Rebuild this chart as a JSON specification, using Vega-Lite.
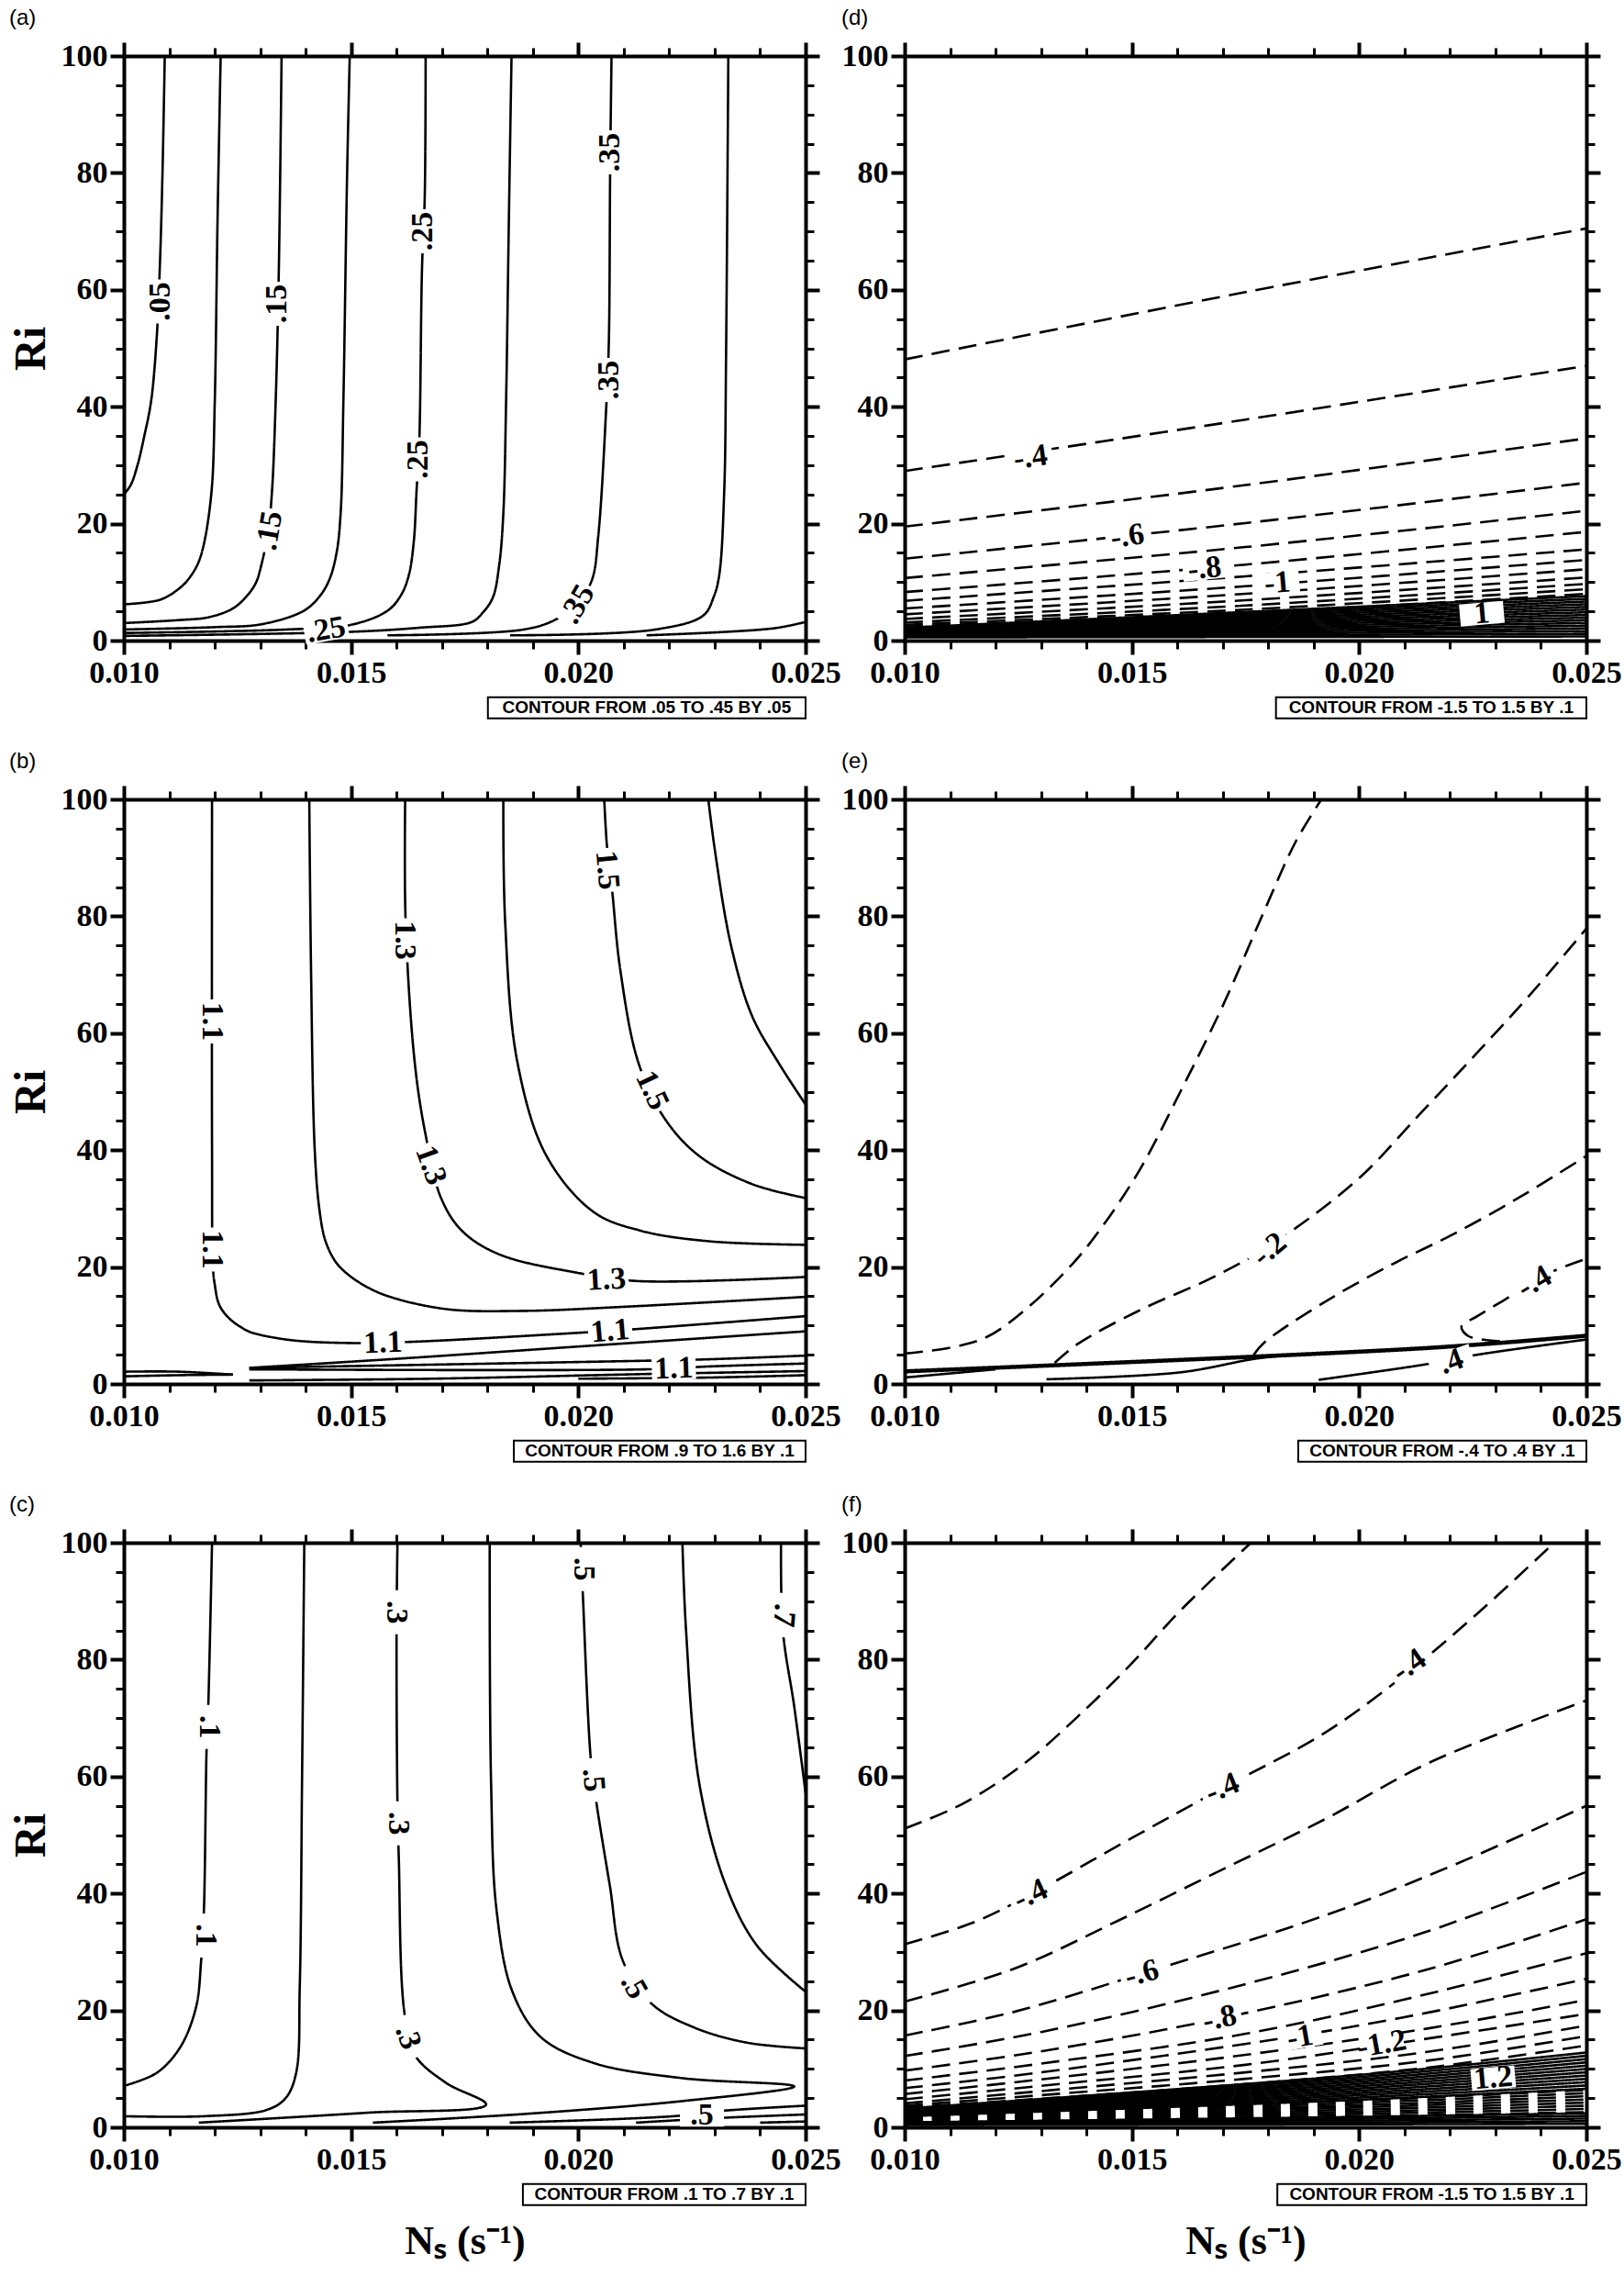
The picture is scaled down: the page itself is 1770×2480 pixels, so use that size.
{
  "$schema": "https://vega.github.io/schema/vega-lite/v6.json",
  "padding": {"left": 10, "top": 8, "right": 0, "bottom": 0},
  "background": "white",
  "config": {
    "view": {"stroke": null},
    "axis": {
      "grid": false, "domainColor": "black", "domainWidth": 4, "tickColor": "black",
      "labelColor": "black", "labelFont": "Liberation Serif", "labelFontWeight": "bold",
      "labelFontSize": 34, "labelPadding": 3, "titleFont": "Liberation Serif",
      "titleFontWeight": "bold", "titleColor": "black", "zindex": 1,
      "labelOverlap": false, "labelFlush": false
    },
    "title": {"font": "Liberation Sans", "fontWeight": "normal", "fontSize": 24, "anchor": "start", "frame": "bounds", "offset": 12, "color": "black"}
  },
  "datasets": {
    "lines": [
      {"p":"a","id":"a05","s":"solid","o":1,"x":0.0100,"y":25},
      {"p":"a","id":"a05","s":"solid","o":2,"x":0.01015,"y":26.6},
      {"p":"a","id":"a05","s":"solid","o":3,"x":0.0103,"y":30},
      {"p":"a","id":"a05","s":"solid","o":4,"x":0.01045,"y":35},
      {"p":"a","id":"a05","s":"solid","o":5,"x":0.0106,"y":41},
      {"p":"a","id":"a05","s":"solid","o":6,"x":0.01072,"y":51.5},
      {"p":"a","id":"a05","s":"solid","o":7,"x":0.01079,"y":63.6},
      {"p":"a","id":"a05","s":"solid","o":8,"x":0.01085,"y":80},
      {"p":"a","id":"a05","s":"solid","o":9,"x":0.0109,"y":100},
      {"p":"a","id":"a10","s":"solid","o":1,"x":0.0100,"y":6.2},
      {"p":"a","id":"a10","s":"solid","o":2,"x":0.0108,"y":7.0},
      {"p":"a","id":"a10","s":"solid","o":3,"x":0.0112,"y":8.8},
      {"p":"a","id":"a10","s":"solid","o":4,"x":0.01141,"y":10.4},
      {"p":"a","id":"a10","s":"solid","o":5,"x":0.01162,"y":13},
      {"p":"a","id":"a10","s":"solid","o":6,"x":0.01176,"y":16.5},
      {"p":"a","id":"a10","s":"solid","o":7,"x":0.01193,"y":25.6},
      {"p":"a","id":"a10","s":"solid","o":8,"x":0.0120,"y":40.8},
      {"p":"a","id":"a10","s":"solid","o":9,"x":0.01206,"y":71.3},
      {"p":"a","id":"a10","s":"solid","o":10,"x":0.01213,"y":100},
      {"p":"a","id":"a15","s":"solid","o":1,"x":0.0100,"y":3.0},
      {"p":"a","id":"a15","s":"solid","o":2,"x":0.0112,"y":3.5},
      {"p":"a","id":"a15","s":"solid","o":3,"x":0.01187,"y":4.0},
      {"p":"a","id":"a15","s":"solid","o":4,"x":0.0124,"y":5.5},
      {"p":"a","id":"a15","s":"solid","o":5,"x":0.01268,"y":7.4},
      {"p":"a","id":"a15","s":"solid","o":6,"x":0.0129,"y":9.8},
      {"p":"a","id":"a15","s":"solid","o":7,"x":0.01303,"y":13.1},
      {"p":"a","id":"a15","s":"solid","o":8,"x":0.01318,"y":19},
      {"p":"a","id":"a15","s":"solid","o":9,"x":0.01326,"y":25.6},
      {"p":"a","id":"a15","s":"solid","o":10,"x":0.01334,"y":40.8},
      {"p":"a","id":"a15","s":"solid","o":11,"x":0.01341,"y":63.6},
      {"p":"a","id":"a15","s":"solid","o":12,"x":0.01347,"y":100},
      {"p":"a","id":"a20","s":"solid","o":1,"x":0.0100,"y":1.9},
      {"p":"a","id":"a20","s":"solid","o":2,"x":0.0120,"y":2.3},
      {"p":"a","id":"a20","s":"solid","o":3,"x":0.01303,"y":2.8},
      {"p":"a","id":"a20","s":"solid","o":4,"x":0.01396,"y":5.1},
      {"p":"a","id":"a20","s":"solid","o":5,"x":0.0143,"y":7.5},
      {"p":"a","id":"a20","s":"solid","o":6,"x":0.01452,"y":10.4},
      {"p":"a","id":"a20","s":"solid","o":7,"x":0.01468,"y":15},
      {"p":"a","id":"a20","s":"solid","o":8,"x":0.01477,"y":21.8},
      {"p":"a","id":"a20","s":"solid","o":9,"x":0.01483,"y":40.8},
      {"p":"a","id":"a20","s":"solid","o":10,"x":0.01491,"y":79},
      {"p":"a","id":"a20","s":"solid","o":11,"x":0.01497,"y":100},
      {"p":"a","id":"a25","s":"solid","o":1,"x":0.0100,"y":1.3},
      {"p":"a","id":"a25","s":"solid","o":2,"x":0.0136,"y":1.9},
      {"p":"a","id":"a25","s":"solid","o":3,"x":0.0150,"y":2.7},
      {"p":"a","id":"a25","s":"solid","o":4,"x":0.0158,"y":5.1},
      {"p":"a","id":"a25","s":"solid","o":5,"x":0.0161,"y":7.8},
      {"p":"a","id":"a25","s":"solid","o":6,"x":0.01627,"y":11.2},
      {"p":"a","id":"a25","s":"solid","o":7,"x":0.01638,"y":17},
      {"p":"a","id":"a25","s":"solid","o":8,"x":0.01644,"y":25.6},
      {"p":"a","id":"a25","s":"solid","o":9,"x":0.0165,"y":34},
      {"p":"a","id":"a25","s":"solid","o":10,"x":0.01656,"y":63.6},
      {"p":"a","id":"a25","s":"solid","o":11,"x":0.01662,"y":75.8},
      {"p":"a","id":"a25","s":"solid","o":12,"x":0.01664,"y":100},
      {"p":"a","id":"a30","s":"solid","o":1,"x":0.0100,"y":0.8},
      {"p":"a","id":"a30","s":"solid","o":2,"x":0.0150,"y":1.5},
      {"p":"a","id":"a30","s":"solid","o":3,"x":0.0165,"y":2.2},
      {"p":"a","id":"a30","s":"solid","o":4,"x":0.01766,"y":3.2},
      {"p":"a","id":"a30","s":"solid","o":5,"x":0.0179,"y":4.8},
      {"p":"a","id":"a30","s":"solid","o":6,"x":0.01812,"y":7.4},
      {"p":"a","id":"a30","s":"solid","o":7,"x":0.01826,"y":13},
      {"p":"a","id":"a30","s":"solid","o":8,"x":0.01835,"y":21.8},
      {"p":"a","id":"a30","s":"solid","o":9,"x":0.01841,"y":40.8},
      {"p":"a","id":"a30","s":"solid","o":10,"x":0.01847,"y":71.3},
      {"p":"a","id":"a30","s":"solid","o":11,"x":0.01853,"y":100},
      {"p":"a","id":"a35","s":"solid","o":1,"x":0.0158,"y":0.9},
      {"p":"a","id":"a35","s":"solid","o":2,"x":0.0188,"y":1.9},
      {"p":"a","id":"a35","s":"solid","o":3,"x":0.0195,"y":3.6},
      {"p":"a","id":"a35","s":"solid","o":4,"x":0.0200,"y":6.5},
      {"p":"a","id":"a35","s":"solid","o":5,"x":0.0203,"y":10.4},
      {"p":"a","id":"a35","s":"solid","o":6,"x":0.02044,"y":18},
      {"p":"a","id":"a35","s":"solid","o":7,"x":0.02061,"y":39.3},
      {"p":"a","id":"a35","s":"solid","o":8,"x":0.02067,"y":50.7},
      {"p":"a","id":"a35","s":"solid","o":9,"x":0.0207,"y":80.4},
      {"p":"a","id":"a35","s":"solid","o":10,"x":0.02073,"y":100},
      {"p":"a","id":"a40","s":"solid","o":1,"x":0.0185,"y":0.9},
      {"p":"a","id":"a40","s":"solid","o":2,"x":0.0217,"y":1.9},
      {"p":"a","id":"a40","s":"solid","o":3,"x":0.02275,"y":4.3},
      {"p":"a","id":"a40","s":"solid","o":4,"x":0.02298,"y":7.5},
      {"p":"a","id":"a40","s":"solid","o":5,"x":0.0231,"y":11.2},
      {"p":"a","id":"a40","s":"solid","o":6,"x":0.02321,"y":25.6},
      {"p":"a","id":"a40","s":"solid","o":7,"x":0.02325,"y":48.4},
      {"p":"a","id":"a40","s":"solid","o":8,"x":0.0233,"y":100},
      {"p":"a","id":"a45","s":"solid","o":1,"x":0.0215,"y":0.9},
      {"p":"a","id":"a45","s":"solid","o":2,"x":0.0243,"y":2.1},
      {"p":"a","id":"a45","s":"solid","o":3,"x":0.025,"y":3.2},

      {"p":"b","id":"b11","s":"solid","o":1,"x":0.01194,"y":100},
      {"p":"b","id":"b11","s":"solid","o":2,"x":0.01194,"y":40},
      {"p":"b","id":"b11","s":"solid","o":3,"x":0.01196,"y":20},
      {"p":"b","id":"b11","s":"solid","o":4,"x":0.0120,"y":17},
      {"p":"b","id":"b11","s":"solid","o":5,"x":0.0121,"y":13.5},
      {"p":"b","id":"b11","s":"solid","o":6,"x":0.01232,"y":11.2},
      {"p":"b","id":"b11","s":"solid","o":7,"x":0.0126,"y":9.6},
      {"p":"b","id":"b11","s":"solid","o":8,"x":0.01281,"y":8.8},
      {"p":"b","id":"b11","s":"solid","o":9,"x":0.01368,"y":7.5},
      {"p":"b","id":"b11","s":"solid","o":10,"x":0.0150,"y":7.0},
      {"p":"b","id":"b11","s":"solid","o":11,"x":0.0163,"y":7.2},
      {"p":"b","id":"b11","s":"solid","o":12,"x":0.0200,"y":8.75},
      {"p":"b","id":"b11","s":"solid","o":13,"x":0.0213,"y":9.4},
      {"p":"b","id":"b11","s":"solid","o":14,"x":0.025,"y":11.6},
      {"p":"b","id":"b12","s":"solid","o":1,"x":0.01408,"y":100},
      {"p":"b","id":"b12","s":"solid","o":2,"x":0.01412,"y":70},
      {"p":"b","id":"b12","s":"solid","o":3,"x":0.0142,"y":40},
      {"p":"b","id":"b12","s":"solid","o":4,"x":0.0143,"y":30},
      {"p":"b","id":"b12","s":"solid","o":5,"x":0.01443,"y":24.6},
      {"p":"b","id":"b12","s":"solid","o":6,"x":0.01465,"y":21},
      {"p":"b","id":"b12","s":"solid","o":7,"x":0.01489,"y":19},
      {"p":"b","id":"b12","s":"solid","o":8,"x":0.0153,"y":16.8},
      {"p":"b","id":"b12","s":"solid","o":9,"x":0.01582,"y":15},
      {"p":"b","id":"b12","s":"solid","o":10,"x":0.0171,"y":12.8},
      {"p":"b","id":"b12","s":"solid","o":11,"x":0.0188,"y":12.5},
      {"p":"b","id":"b12","s":"solid","o":12,"x":0.0210,"y":13.2},
      {"p":"b","id":"b12","s":"solid","o":13,"x":0.025,"y":14.9},
      {"p":"b","id":"b13","s":"solid","o":1,"x":0.01619,"y":100},
      {"p":"b","id":"b13","s":"solid","o":2,"x":0.0162,"y":79},
      {"p":"b","id":"b13","s":"solid","o":3,"x":0.0164,"y":55},
      {"p":"b","id":"b13","s":"solid","o":4,"x":0.01663,"y":43},
      {"p":"b","id":"b13","s":"solid","o":5,"x":0.01698,"y":31.8},
      {"p":"b","id":"b13","s":"solid","o":6,"x":0.01744,"y":26.2},
      {"p":"b","id":"b13","s":"solid","o":7,"x":0.01825,"y":22.2},
      {"p":"b","id":"b13","s":"solid","o":8,"x":0.01999,"y":19},
      {"p":"b","id":"b13","s":"solid","o":9,"x":0.0213,"y":17.6},
      {"p":"b","id":"b13","s":"solid","o":10,"x":0.025,"y":18.3},
      {"p":"b","id":"b14","s":"solid","o":1,"x":0.01835,"y":100},
      {"p":"b","id":"b14","s":"solid","o":2,"x":0.01839,"y":79},
      {"p":"b","id":"b14","s":"solid","o":3,"x":0.01866,"y":55},
      {"p":"b","id":"b14","s":"solid","o":4,"x":0.0193,"y":39},
      {"p":"b","id":"b14","s":"solid","o":5,"x":0.02034,"y":29.4},
      {"p":"b","id":"b14","s":"solid","o":6,"x":0.02138,"y":26.2},
      {"p":"b","id":"b14","s":"solid","o":7,"x":0.02289,"y":24.4},
      {"p":"b","id":"b14","s":"solid","o":8,"x":0.025,"y":23.8},
      {"p":"b","id":"b15","s":"solid","o":1,"x":0.02057,"y":100},
      {"p":"b","id":"b15","s":"solid","o":2,"x":0.02063,"y":92},
      {"p":"b","id":"b15","s":"solid","o":3,"x":0.02074,"y":84.7},
      {"p":"b","id":"b15","s":"solid","o":4,"x":0.02092,"y":71},
      {"p":"b","id":"b15","s":"solid","o":5,"x":0.02132,"y":55},
      {"p":"b","id":"b15","s":"solid","o":6,"x":0.0219,"y":45.4},
      {"p":"b","id":"b15","s":"solid","o":7,"x":0.02266,"y":39},
      {"p":"b","id":"b15","s":"solid","o":8,"x":0.02382,"y":34.2},
      {"p":"b","id":"b15","s":"solid","o":9,"x":0.025,"y":31.8},
      {"p":"b","id":"b16","s":"solid","o":1,"x":0.02286,"y":100},
      {"p":"b","id":"b16","s":"solid","o":2,"x":0.02301,"y":91},
      {"p":"b","id":"b16","s":"solid","o":3,"x":0.02336,"y":75},
      {"p":"b","id":"b16","s":"solid","o":4,"x":0.02382,"y":63},
      {"p":"b","id":"b16","s":"solid","o":5,"x":0.0244,"y":55},
      {"p":"b","id":"b16","s":"solid","o":6,"x":0.025,"y":47.8},
      {"p":"b","id":"bA","s":"solid","o":1,"x":0.01276,"y":2.75},
      {"p":"b","id":"bA","s":"solid","o":2,"x":0.0160,"y":4.3},
      {"p":"b","id":"bA","s":"solid","o":3,"x":0.0200,"y":6.4},
      {"p":"b","id":"bA","s":"solid","o":4,"x":0.025,"y":9.0},
      {"p":"b","id":"bB","s":"solid","o":1,"x":0.01276,"y":2.75},
      {"p":"b","id":"bB","s":"solid","o":2,"x":0.0214,"y":3.96},
      {"p":"b","id":"bB","s":"solid","o":3,"x":0.0228,"y":4.2},
      {"p":"b","id":"bB","s":"solid","o":4,"x":0.025,"y":4.85},
      {"p":"b","id":"bC","s":"solid","o":1,"x":0.01276,"y":2.5},
      {"p":"b","id":"bC","s":"solid","o":2,"x":0.0215,"y":2.5},
      {"p":"b","id":"bC","s":"solid","o":3,"x":0.0229,"y":3.0},
      {"p":"b","id":"bC","s":"solid","o":4,"x":0.025,"y":3.5},
      {"p":"b","id":"bD","s":"solid","o":1,"x":0.01276,"y":0.6},
      {"p":"b","id":"bD","s":"solid","o":2,"x":0.0168,"y":0.9},
      {"p":"b","id":"bD","s":"solid","o":3,"x":0.0215,"y":1.7},
      {"p":"b","id":"bD","s":"solid","o":4,"x":0.025,"y":2.2},
      {"p":"b","id":"bE","s":"solid","o":1,"x":0.0200,"y":0.9},
      {"p":"b","id":"bE","s":"solid","o":2,"x":0.0229,"y":1.1},
      {"p":"b","id":"bE","s":"solid","o":3,"x":0.025,"y":1.5},
      {"p":"b","id":"bW1","s":"solid","o":1,"x":0.0100,"y":2.1},
      {"p":"b","id":"bW1","s":"solid","o":2,"x":0.0112,"y":2.1},
      {"p":"b","id":"bW1","s":"solid","o":3,"x":0.0124,"y":1.6},
      {"p":"b","id":"bW2","s":"solid","o":1,"x":0.0100,"y":1.3},
      {"p":"b","id":"bW2","s":"solid","o":2,"x":0.0112,"y":1.5},
      {"p":"b","id":"bW2","s":"solid","o":3,"x":0.0124,"y":1.6},

      {"p":"c","id":"c1","s":"solid","o":1,"x":0.0100,"y":7.1},
      {"p":"c","id":"c1","s":"solid","o":2,"x":0.01072,"y":9.3},
      {"p":"c","id":"c1","s":"solid","o":3,"x":0.01124,"y":13.7},
      {"p":"c","id":"c1","s":"solid","o":4,"x":0.01159,"y":20.6},
      {"p":"c","id":"c1","s":"solid","o":5,"x":0.0117,"y":28.5},
      {"p":"c","id":"c1","s":"solid","o":6,"x":0.01176,"y":36.8},
      {"p":"c","id":"c1","s":"solid","o":7,"x":0.01182,"y":64.7},
      {"p":"c","id":"c1","s":"solid","o":8,"x":0.01186,"y":72.8},
      {"p":"c","id":"c1","s":"solid","o":9,"x":0.01194,"y":100},
      {"p":"c","id":"c2","s":"solid","o":1,"x":0.0100,"y":1.9},
      {"p":"c","id":"c2","s":"solid","o":2,"x":0.01176,"y":1.9},
      {"p":"c","id":"c2","s":"solid","o":3,"x":0.01315,"y":3.0},
      {"p":"c","id":"c2","s":"solid","o":4,"x":0.01356,"y":5.0},
      {"p":"c","id":"c2","s":"solid","o":5,"x":0.01379,"y":9.3},
      {"p":"c","id":"c2","s":"solid","o":6,"x":0.01387,"y":24},
      {"p":"c","id":"c2","s":"solid","o":7,"x":0.01392,"y":58.9},
      {"p":"c","id":"c2","s":"solid","o":8,"x":0.01397,"y":100},
      {"p":"c","id":"c3","s":"solid","o":1,"x":0.01602,"y":100},
      {"p":"c","id":"c3","s":"solid","o":2,"x":0.0160,"y":85},
      {"p":"c","id":"c3","s":"solid","o":3,"x":0.01602,"y":55.4},
      {"p":"c","id":"c3","s":"solid","o":4,"x":0.01605,"y":45.9},
      {"p":"c","id":"c3","s":"solid","o":5,"x":0.01617,"y":19.8},
      {"p":"c","id":"c3","s":"solid","o":6,"x":0.0164,"y":12.4},
      {"p":"c","id":"c3","s":"solid","o":7,"x":0.01709,"y":7.6},
      {"p":"c","id":"c3","s":"solid","o":8,"x":0.01797,"y":3.9},
      {"p":"c","id":"c3","s":"solid","o":9,"x":0.01536,"y":2.5},
      {"p":"c","id":"c3","s":"solid","o":10,"x":0.01165,"y":0.8},
      {"p":"c","id":"c4","s":"solid","o":1,"x":0.01805,"y":100},
      {"p":"c","id":"c4","s":"solid","o":2,"x":0.01808,"y":58.9},
      {"p":"c","id":"c4","s":"solid","o":3,"x":0.0182,"y":37.2},
      {"p":"c","id":"c4","s":"solid","o":4,"x":0.01855,"y":23.2},
      {"p":"c","id":"c4","s":"solid","o":5,"x":0.01918,"y":15.4},
      {"p":"c","id":"c4","s":"solid","o":6,"x":0.02034,"y":11.0},
      {"p":"c","id":"c4","s":"solid","o":7,"x":0.0223,"y":8.4},
      {"p":"c","id":"c4","s":"solid","o":8,"x":0.02475,"y":7.0},
      {"p":"c","id":"c4","s":"solid","o":9,"x":0.0223,"y":4.5},
      {"p":"c","id":"c4","s":"solid","o":10,"x":0.01884,"y":2.3},
      {"p":"c","id":"c4","s":"solid","o":11,"x":0.01548,"y":0.8},
      {"p":"c","id":"c5","s":"solid","o":1,"x":0.02005,"y":100},
      {"p":"c","id":"c5","s":"solid","o":2,"x":0.0201,"y":91},
      {"p":"c","id":"c5","s":"solid","o":3,"x":0.02028,"y":62.4},
      {"p":"c","id":"c5","s":"solid","o":4,"x":0.0204,"y":55.4},
      {"p":"c","id":"c5","s":"solid","o":5,"x":0.02069,"y":41.5},
      {"p":"c","id":"c5","s":"solid","o":6,"x":0.02098,"y":28.5},
      {"p":"c","id":"c5","s":"solid","o":7,"x":0.02162,"y":21.1},
      {"p":"c","id":"c5","s":"solid","o":8,"x":0.02254,"y":17.1},
      {"p":"c","id":"c5","s":"solid","o":9,"x":0.0237,"y":14.5},
      {"p":"c","id":"c5","s":"solid","o":10,"x":0.025,"y":13.5},
      {"p":"c","id":"c5b","s":"solid","o":1,"x":0.01849,"y":0.8},
      {"p":"c","id":"c5b","s":"solid","o":2,"x":0.02209,"y":1.9},
      {"p":"c","id":"c5b","s":"solid","o":3,"x":0.02312,"y":2.8},
      {"p":"c","id":"c5b","s":"solid","o":4,"x":0.025,"y":3.7},
      {"p":"c","id":"c6","s":"solid","o":1,"x":0.02229,"y":100},
      {"p":"c","id":"c6","s":"solid","o":2,"x":0.02237,"y":85},
      {"p":"c","id":"c6","s":"solid","o":3,"x":0.02266,"y":58.9},
      {"p":"c","id":"c6","s":"solid","o":4,"x":0.02324,"y":41.5},
      {"p":"c","id":"c6","s":"solid","o":5,"x":0.02393,"y":31.1},
      {"p":"c","id":"c6","s":"solid","o":6,"x":0.025,"y":23.2},
      {"p":"c","id":"c6b","s":"solid","o":1,"x":0.02127,"y":0.8},
      {"p":"c","id":"c6b","s":"solid","o":2,"x":0.0231,"y":1.6},
      {"p":"c","id":"c6b","s":"solid","o":3,"x":0.025,"y":2.2},
      {"p":"c","id":"c7b","s":"solid","o":1,"x":0.0240,"y":0.8},
      {"p":"c","id":"c7b","s":"solid","o":2,"x":0.025,"y":1.0},
      {"p":"c","id":"c7","s":"solid","o":1,"x":0.02446,"y":100},
      {"p":"c","id":"c7","s":"solid","o":2,"x":0.0245,"y":85},
      {"p":"c","id":"c7","s":"solid","o":3,"x":0.02475,"y":72},
      {"p":"c","id":"c7","s":"solid","o":4,"x":0.025,"y":57.2},

      {"p":"d","id":"d03","s":"dashed","o":1,"x":0.010,"y":48.1},
      {"p":"d","id":"d03","s":"dashed","o":2,"x":0.0175,"y":59.6},
      {"p":"d","id":"d03","s":"dashed","o":3,"x":0.025,"y":70.5},
      {"p":"d","id":"d04","s":"dashed","o":1,"x":0.010,"y":29.0},
      {"p":"d","id":"d04","s":"dashed","o":2,"x":0.0175,"y":37.8},
      {"p":"d","id":"d04","s":"dashed","o":3,"x":0.025,"y":47.0},
      {"p":"d","id":"d05","s":"dashed","o":1,"x":0.010,"y":19.5},
      {"p":"d","id":"d05","s":"dashed","o":2,"x":0.0175,"y":26.6},
      {"p":"d","id":"d05","s":"dashed","o":3,"x":0.025,"y":34.6},
      {"p":"d","id":"d06","s":"dashed","o":1,"x":0.010,"y":14.0},
      {"p":"d","id":"d06","s":"dashed","o":2,"x":0.0175,"y":20.1},
      {"p":"d","id":"d06","s":"dashed","o":3,"x":0.025,"y":27.0},
      {"p":"d","id":"d07","s":"dashed","o":1,"x":0.010,"y":10.7},
      {"p":"d","id":"d07","s":"dashed","o":2,"x":0.0175,"y":16.0},
      {"p":"d","id":"d07","s":"dashed","o":3,"x":0.025,"y":22.2},
      {"p":"d","id":"d08","s":"dashed","o":1,"x":0.010,"y":8.3},
      {"p":"d","id":"d08","s":"dashed","o":2,"x":0.0175,"y":13.0},
      {"p":"d","id":"d08","s":"dashed","o":3,"x":0.025,"y":18.6},
      {"p":"d","id":"d09","s":"dashed","o":1,"x":0.010,"y":6.8},
      {"p":"d","id":"d09","s":"dashed","o":2,"x":0.0175,"y":11.0},
      {"p":"d","id":"d09","s":"dashed","o":3,"x":0.025,"y":15.6},
      {"p":"d","id":"d10","s":"dashed","o":1,"x":0.010,"y":5.5},
      {"p":"d","id":"d10","s":"dashed","o":2,"x":0.0175,"y":9.3},
      {"p":"d","id":"d10","s":"dashed","o":3,"x":0.025,"y":13.8},
      {"p":"d","id":"d11","s":"dashed","o":1,"x":0.010,"y":4.5},
      {"p":"d","id":"d11","s":"dashed","o":2,"x":0.0175,"y":8.0},
      {"p":"d","id":"d11","s":"dashed","o":3,"x":0.025,"y":12.2},
      {"p":"d","id":"d12","s":"dashed","o":1,"x":0.010,"y":3.7},
      {"p":"d","id":"d12","s":"dashed","o":2,"x":0.0175,"y":6.9},
      {"p":"d","id":"d12","s":"dashed","o":3,"x":0.025,"y":10.8},
      {"p":"d","id":"d13","s":"dashed","o":1,"x":0.010,"y":3.1},
      {"p":"d","id":"d13","s":"dashed","o":2,"x":0.0175,"y":6.0},
      {"p":"d","id":"d13","s":"dashed","o":3,"x":0.025,"y":9.7},
      {"p":"d","id":"d14","s":"dashed","o":1,"x":0.010,"y":2.7},
      {"p":"d","id":"d14","s":"dashed","o":2,"x":0.0175,"y":5.3},
      {"p":"d","id":"d14","s":"dashed","o":3,"x":0.025,"y":8.8},
      {"p":"d","id":"d15","s":"dashed","o":1,"x":0.010,"y":2.4},
      {"p":"d","id":"d15","s":"dashed","o":2,"x":0.0175,"y":4.7},
      {"p":"d","id":"d15","s":"dashed","o":3,"x":0.025,"y":8.0},
      {"p":"d","id":"dS0","s":"solid","o":1,"x":0.010,"y":2.2},
      {"p":"d","id":"dS0","s":"solid","o":2,"x":0.025,"y":7.6},
      {"p":"d","id":"dS1","s":"solid","o":1,"x":0.010,"y":2.09},
      {"p":"d","id":"dS1","s":"solid","o":2,"x":0.025,"y":7.14},
      {"p":"d","id":"dS2","s":"solid","o":1,"x":0.010,"y":1.98},
      {"p":"d","id":"dS2","s":"solid","o":2,"x":0.025,"y":6.68},
      {"p":"d","id":"dS3","s":"solid","o":1,"x":0.010,"y":1.87},
      {"p":"d","id":"dS3","s":"solid","o":2,"x":0.025,"y":6.22},
      {"p":"d","id":"dS4","s":"solid","o":1,"x":0.010,"y":1.76},
      {"p":"d","id":"dS4","s":"solid","o":2,"x":0.025,"y":5.76},
      {"p":"d","id":"dS5","s":"solid","o":1,"x":0.010,"y":1.65},
      {"p":"d","id":"dS5","s":"solid","o":2,"x":0.025,"y":5.3},
      {"p":"d","id":"dS6","s":"solid","o":1,"x":0.010,"y":1.54},
      {"p":"d","id":"dS6","s":"solid","o":2,"x":0.025,"y":4.84},
      {"p":"d","id":"dS7","s":"solid","o":1,"x":0.010,"y":1.43},
      {"p":"d","id":"dS7","s":"solid","o":2,"x":0.025,"y":4.38},
      {"p":"d","id":"dS8","s":"solid","o":1,"x":0.010,"y":1.32},
      {"p":"d","id":"dS8","s":"solid","o":2,"x":0.025,"y":3.92},
      {"p":"d","id":"dS9","s":"solid","o":1,"x":0.010,"y":1.21},
      {"p":"d","id":"dS9","s":"solid","o":2,"x":0.025,"y":3.46},
      {"p":"d","id":"dS10","s":"solid","o":1,"x":0.010,"y":1.1},
      {"p":"d","id":"dS10","s":"solid","o":2,"x":0.025,"y":3.0},
      {"p":"d","id":"dS11","s":"solid","o":1,"x":0.010,"y":0.99},
      {"p":"d","id":"dS11","s":"solid","o":2,"x":0.025,"y":2.54},
      {"p":"d","id":"dS12","s":"solid","o":1,"x":0.010,"y":0.88},
      {"p":"d","id":"dS12","s":"solid","o":2,"x":0.025,"y":2.08},
      {"p":"d","id":"dS13","s":"solid","o":1,"x":0.010,"y":0.77},
      {"p":"d","id":"dS13","s":"solid","o":2,"x":0.025,"y":1.62},
      {"p":"d","id":"dS14","s":"solid","o":1,"x":0.010,"y":0.66},
      {"p":"d","id":"dS14","s":"solid","o":2,"x":0.025,"y":1.16},
      {"p":"d","id":"dS15","s":"solid","o":1,"x":0.010,"y":0.55},
      {"p":"d","id":"dS15","s":"solid","o":2,"x":0.025,"y":0.7},

      {"p":"e","id":"eE1","s":"dashed","o":1,"x":0.010,"y":5.2},
      {"p":"e","id":"eE1","s":"dashed","o":2,"x":0.0110,"y":6.2},
      {"p":"e","id":"eE1","s":"dashed","o":3,"x":0.0118,"y":8.0},
      {"p":"e","id":"eE1","s":"dashed","o":4,"x":0.0127,"y":13.0},
      {"p":"e","id":"eE1","s":"dashed","o":5,"x":0.0137,"y":20.6},
      {"p":"e","id":"eE1","s":"dashed","o":6,"x":0.0143,"y":26.4},
      {"p":"e","id":"eE1","s":"dashed","o":7,"x":0.01517,"y":36.6},
      {"p":"e","id":"eE1","s":"dashed","o":8,"x":0.01608,"y":50.2},
      {"p":"e","id":"eE1","s":"dashed","o":9,"x":0.0170,"y":64.7},
      {"p":"e","id":"eE1","s":"dashed","o":10,"x":0.0179,"y":80.7},
      {"p":"e","id":"eE1","s":"dashed","o":11,"x":0.0186,"y":92.7},
      {"p":"e","id":"eE1","s":"dashed","o":12,"x":0.01917,"y":100},
      {"p":"e","id":"eE2","s":"dashed","o":1,"x":0.0133,"y":3.6},
      {"p":"e","id":"eE2","s":"dashed","o":2,"x":0.0138,"y":6.8},
      {"p":"e","id":"eE2","s":"dashed","o":3,"x":0.01517,"y":12.6},
      {"p":"e","id":"eE2","s":"dashed","o":4,"x":0.01677,"y":18.2},
      {"p":"e","id":"eE2","s":"dashed","o":5,"x":0.0181,"y":24},
      {"p":"e","id":"eE2","s":"dashed","o":6,"x":0.01997,"y":35},
      {"p":"e","id":"eE2","s":"dashed","o":7,"x":0.02134,"y":46.2},
      {"p":"e","id":"eE2","s":"dashed","o":8,"x":0.02259,"y":56.6},
      {"p":"e","id":"eE2","s":"dashed","o":9,"x":0.02373,"y":66.3},
      {"p":"e","id":"eE2","s":"dashed","o":10,"x":0.025,"y":77.9},
      {"p":"e","id":"eE3","s":"dashed","o":1,"x":0.01768,"y":5.0},
      {"p":"e","id":"eE3","s":"dashed","o":2,"x":0.0179,"y":7.0},
      {"p":"e","id":"eE3","s":"dashed","o":3,"x":0.01928,"y":14.2},
      {"p":"e","id":"eE3","s":"dashed","o":4,"x":0.02076,"y":20.6},
      {"p":"e","id":"eE3","s":"dashed","o":5,"x":0.02202,"y":25.4},
      {"p":"e","id":"eE3","s":"dashed","o":6,"x":0.0235,"y":31.8},
      {"p":"e","id":"eE3","s":"dashed","o":7,"x":0.025,"y":39},
      {"p":"e","id":"eE4","s":"dashed","o":1,"x":0.0231,"y":7.3},
      {"p":"e","id":"eE4","s":"dashed","o":2,"x":0.0224,"y":8.2},
      {"p":"e","id":"eE4","s":"dashed","o":3,"x":0.02225,"y":9.8},
      {"p":"e","id":"eE4","s":"dashed","o":4,"x":0.0226,"y":11.6},
      {"p":"e","id":"eE4","s":"dashed","o":5,"x":0.02316,"y":14.2},
      {"p":"e","id":"eE4","s":"dashed","o":6,"x":0.02419,"y":19.0},
      {"p":"e","id":"eE4","s":"dashed","o":7,"x":0.025,"y":21.4},
      {"p":"e","id":"eS1","s":"solid","o":1,"x":0.010,"y":2.3},
      {"p":"e","id":"eS1","s":"solid","o":2,"x":0.0215,"y":6.3},
      {"p":"e","id":"eS1","s":"solid","o":3,"x":0.025,"y":8.4},
      {"p":"e","id":"eS1b","s":"solid","o":1,"x":0.010,"y":2.0},
      {"p":"e","id":"eS1b","s":"solid","o":2,"x":0.0215,"y":6.0},
      {"p":"e","id":"eS1b","s":"solid","o":3,"x":0.025,"y":8.1},
      {"p":"e","id":"eS2","s":"solid","o":1,"x":0.010,"y":1.1},
      {"p":"e","id":"eS2","s":"solid","o":2,"x":0.0110,"y":1.8},
      {"p":"e","id":"eS2","s":"solid","o":3,"x":0.0120,"y":2.5},
      {"p":"e","id":"eS3","s":"solid","o":1,"x":0.01312,"y":0.8},
      {"p":"e","id":"eS3","s":"solid","o":2,"x":0.01608,"y":2.0},
      {"p":"e","id":"eS3","s":"solid","o":3,"x":0.0177,"y":4.3},
      {"p":"e","id":"eS3","s":"solid","o":4,"x":0.0185,"y":5.0},
      {"p":"e","id":"eS4","s":"solid","o":1,"x":0.01911,"y":0.7},
      {"p":"e","id":"eS4","s":"solid","o":2,"x":0.0215,"y":3.4},
      {"p":"e","id":"eS4","s":"solid","o":3,"x":0.0226,"y":5.0},
      {"p":"e","id":"eS4","s":"solid","o":4,"x":0.025,"y":7.6},

      {"p":"f","id":"f03","s":"dashed","o":1,"x":0.010,"y":51.1},
      {"p":"f","id":"f03","s":"dashed","o":2,"x":0.01129,"y":55.4},
      {"p":"f","id":"f03","s":"dashed","o":3,"x":0.01266,"y":62.4},
      {"p":"f","id":"f03","s":"dashed","o":4,"x":0.0138,"y":70.2},
      {"p":"f","id":"f03","s":"dashed","o":5,"x":0.01494,"y":78.9},
      {"p":"f","id":"f03","s":"dashed","o":6,"x":0.01608,"y":88.5},
      {"p":"f","id":"f03","s":"dashed","o":7,"x":0.01762,"y":100},
      {"p":"f","id":"f04","s":"dashed","o":1,"x":0.010,"y":31.3},
      {"p":"f","id":"f04","s":"dashed","o":2,"x":0.0115,"y":35},
      {"p":"f","id":"f04","s":"dashed","o":3,"x":0.01277,"y":39.8},
      {"p":"f","id":"f04","s":"dashed","o":4,"x":0.0150,"y":49.5},
      {"p":"f","id":"f04","s":"dashed","o":5,"x":0.01699,"y":58},
      {"p":"f","id":"f04","s":"dashed","o":6,"x":0.01927,"y":67.6},
      {"p":"f","id":"f04","s":"dashed","o":7,"x":0.0211,"y":78},
      {"p":"f","id":"f04","s":"dashed","o":8,"x":0.02269,"y":88.5},
      {"p":"f","id":"f04","s":"dashed","o":9,"x":0.02429,"y":100},
      {"p":"f","id":"f05","s":"dashed","o":1,"x":0.010,"y":21.5},
      {"p":"f","id":"f05","s":"dashed","o":2,"x":0.01243,"y":27.2},
      {"p":"f","id":"f05","s":"dashed","o":3,"x":0.01471,"y":35.4},
      {"p":"f","id":"f05","s":"dashed","o":4,"x":0.01699,"y":44.1},
      {"p":"f","id":"f05","s":"dashed","o":5,"x":0.01927,"y":52.8},
      {"p":"f","id":"f05","s":"dashed","o":6,"x":0.02155,"y":62.4},
      {"p":"f","id":"f05","s":"dashed","o":7,"x":0.025,"y":73},
      {"p":"f","id":"f06","s":"dashed","o":1,"x":0.010,"y":15.7},
      {"p":"f","id":"f06","s":"dashed","o":2,"x":0.01243,"y":19.8},
      {"p":"f","id":"f06","s":"dashed","o":3,"x":0.01522,"y":26.3},
      {"p":"f","id":"f06","s":"dashed","o":4,"x":0.01927,"y":36.3},
      {"p":"f","id":"f06","s":"dashed","o":5,"x":0.02212,"y":45},
      {"p":"f","id":"f06","s":"dashed","o":6,"x":0.025,"y":55},
      {"p":"f","id":"f07","s":"dashed","o":1,"x":0.010,"y":12.2},
      {"p":"f","id":"f07","s":"dashed","o":2,"x":0.013,"y":16.3},
      {"p":"f","id":"f07","s":"dashed","o":3,"x":0.0175,"y":24.5},
      {"p":"f","id":"f07","s":"dashed","o":4,"x":0.0215,"y":33.5},
      {"p":"f","id":"f07","s":"dashed","o":5,"x":0.025,"y":43.7},
      {"p":"f","id":"f08","s":"dashed","o":1,"x":0.010,"y":9.7},
      {"p":"f","id":"f08","s":"dashed","o":2,"x":0.013,"y":13},
      {"p":"f","id":"f08","s":"dashed","o":3,"x":0.01693,"y":18.6},
      {"p":"f","id":"f08","s":"dashed","o":4,"x":0.0215,"y":27},
      {"p":"f","id":"f08","s":"dashed","o":5,"x":0.025,"y":35.6},
      {"p":"f","id":"f09","s":"dashed","o":1,"x":0.010,"y":8.0},
      {"p":"f","id":"f09","s":"dashed","o":2,"x":0.013,"y":10.9},
      {"p":"f","id":"f09","s":"dashed","o":3,"x":0.0175,"y":16.0},
      {"p":"f","id":"f09","s":"dashed","o":4,"x":0.0215,"y":22.8},
      {"p":"f","id":"f09","s":"dashed","o":5,"x":0.025,"y":29.8},
      {"p":"f","id":"f10","s":"dashed","o":1,"x":0.010,"y":6.7},
      {"p":"f","id":"f10","s":"dashed","o":2,"x":0.013,"y":9.4},
      {"p":"f","id":"f10","s":"dashed","o":3,"x":0.0186,"y":15.6},
      {"p":"f","id":"f10","s":"dashed","o":4,"x":0.0215,"y":19.6},
      {"p":"f","id":"f10","s":"dashed","o":5,"x":0.025,"y":25.4},
      {"p":"f","id":"f11","s":"dashed","o":1,"x":0.010,"y":5.7},
      {"p":"f","id":"f11","s":"dashed","o":2,"x":0.013,"y":8.2},
      {"p":"f","id":"f11","s":"dashed","o":3,"x":0.0175,"y":12.4},
      {"p":"f","id":"f11","s":"dashed","o":4,"x":0.0215,"y":16.9},
      {"p":"f","id":"f11","s":"dashed","o":5,"x":0.025,"y":21.8},
      {"p":"f","id":"f12","s":"dashed","o":1,"x":0.010,"y":4.8},
      {"p":"f","id":"f12","s":"dashed","o":2,"x":0.013,"y":7.1},
      {"p":"f","id":"f12","s":"dashed","o":3,"x":0.0175,"y":10.7},
      {"p":"f","id":"f12","s":"dashed","o":4,"x":0.0205,"y":14.0},
      {"p":"f","id":"f12","s":"dashed","o":5,"x":0.025,"y":19.4},
      {"p":"f","id":"f13","s":"dashed","o":1,"x":0.010,"y":4.1},
      {"p":"f","id":"f13","s":"dashed","o":2,"x":0.013,"y":6.2},
      {"p":"f","id":"f13","s":"dashed","o":3,"x":0.0175,"y":9.4},
      {"p":"f","id":"f13","s":"dashed","o":4,"x":0.0215,"y":12.9},
      {"p":"f","id":"f13","s":"dashed","o":5,"x":0.025,"y":17.4},
      {"p":"f","id":"f14","s":"dashed","o":1,"x":0.010,"y":3.7},
      {"p":"f","id":"f14","s":"dashed","o":2,"x":0.013,"y":5.5},
      {"p":"f","id":"f14","s":"dashed","o":3,"x":0.0175,"y":8.3},
      {"p":"f","id":"f14","s":"dashed","o":4,"x":0.0215,"y":11.4},
      {"p":"f","id":"f14","s":"dashed","o":5,"x":0.025,"y":15.6},
      {"p":"f","id":"f15","s":"dashed","o":1,"x":0.010,"y":3.4},
      {"p":"f","id":"f15","s":"dashed","o":2,"x":0.013,"y":4.9},
      {"p":"f","id":"f15","s":"dashed","o":3,"x":0.0175,"y":7.4},
      {"p":"f","id":"f15","s":"dashed","o":4,"x":0.0215,"y":10.2},
      {"p":"f","id":"f15","s":"dashed","o":5,"x":0.025,"y":14.0},
      {"p":"f","id":"fS0","s":"solid","o":1,"x":0.010,"y":3.2},
      {"p":"f","id":"fS0","s":"solid","o":2,"x":0.020,"y":8.96},
      {"p":"f","id":"fS0","s":"solid","o":3,"x":0.025,"y":12.8},
      {"p":"f","id":"fS1","s":"solid","o":1,"x":0.010,"y":3.08},
      {"p":"f","id":"fS1","s":"solid","o":2,"x":0.020,"y":8.58},
      {"p":"f","id":"fS1","s":"solid","o":3,"x":0.025,"y":12.24},
      {"p":"f","id":"fS2","s":"solid","o":1,"x":0.010,"y":2.96},
      {"p":"f","id":"fS2","s":"solid","o":2,"x":0.020,"y":8.19},
      {"p":"f","id":"fS2","s":"solid","o":3,"x":0.025,"y":11.67},
      {"p":"f","id":"fS3","s":"solid","o":1,"x":0.010,"y":2.85},
      {"p":"f","id":"fS3","s":"solid","o":2,"x":0.020,"y":7.81},
      {"p":"f","id":"fS3","s":"solid","o":3,"x":0.025,"y":11.11},
      {"p":"f","id":"fS4","s":"solid","o":1,"x":0.010,"y":2.73},
      {"p":"f","id":"fS4","s":"solid","o":2,"x":0.020,"y":7.42},
      {"p":"f","id":"fS4","s":"solid","o":3,"x":0.025,"y":10.55},
      {"p":"f","id":"fS5","s":"solid","o":1,"x":0.010,"y":2.61},
      {"p":"f","id":"fS5","s":"solid","o":2,"x":0.020,"y":7.03},
      {"p":"f","id":"fS5","s":"solid","o":3,"x":0.025,"y":9.98},
      {"p":"f","id":"fS6","s":"solid","o":1,"x":0.010,"y":2.49},
      {"p":"f","id":"fS6","s":"solid","o":2,"x":0.020,"y":6.65},
      {"p":"f","id":"fS6","s":"solid","o":3,"x":0.025,"y":9.42},
      {"p":"f","id":"fS7","s":"solid","o":1,"x":0.010,"y":2.37},
      {"p":"f","id":"fS7","s":"solid","o":2,"x":0.020,"y":6.26},
      {"p":"f","id":"fS7","s":"solid","o":3,"x":0.025,"y":8.86},
      {"p":"f","id":"fS8","s":"solid","o":1,"x":0.010,"y":2.25},
      {"p":"f","id":"fS8","s":"solid","o":2,"x":0.020,"y":5.87},
      {"p":"f","id":"fS8","s":"solid","o":3,"x":0.025,"y":8.29},
      {"p":"f","id":"fS9","s":"solid","o":1,"x":0.010,"y":2.14},
      {"p":"f","id":"fS9","s":"solid","o":2,"x":0.020,"y":5.49},
      {"p":"f","id":"fS9","s":"solid","o":3,"x":0.025,"y":7.73},
      {"p":"f","id":"fS10","s":"solid","o":1,"x":0.010,"y":2.02},
      {"p":"f","id":"fS10","s":"solid","o":2,"x":0.020,"y":5.10},
      {"p":"f","id":"fS10","s":"solid","o":3,"x":0.025,"y":7.16},
      {"p":"f","id":"fS11","s":"solid","o":1,"x":0.010,"y":1.9},
      {"p":"f","id":"fS11","s":"solid","o":2,"x":0.020,"y":4.72},
      {"p":"f","id":"fS11","s":"solid","o":3,"x":0.025,"y":6.6},
      {"p":"f","id":"fD0","s":"dashed","o":1,"x":0.010,"y":1.8},
      {"p":"f","id":"fD0","s":"dashed","o":2,"x":0.020,"y":4.56},
      {"p":"f","id":"fD0","s":"dashed","o":3,"x":0.025,"y":6.4},
      {"p":"f","id":"fD1","s":"dashed","o":1,"x":0.010,"y":1.67},
      {"p":"f","id":"fD1","s":"dashed","o":2,"x":0.020,"y":4.19},
      {"p":"f","id":"fD1","s":"dashed","o":3,"x":0.025,"y":5.86},
      {"p":"f","id":"fD2","s":"dashed","o":1,"x":0.010,"y":1.54},
      {"p":"f","id":"fD2","s":"dashed","o":2,"x":0.020,"y":3.80},
      {"p":"f","id":"fD2","s":"dashed","o":3,"x":0.025,"y":5.31},
      {"p":"f","id":"fD3","s":"dashed","o":1,"x":0.010,"y":1.41},
      {"p":"f","id":"fD3","s":"dashed","o":2,"x":0.020,"y":3.43},
      {"p":"f","id":"fD3","s":"dashed","o":3,"x":0.025,"y":4.77},
      {"p":"f","id":"fD4","s":"dashed","o":1,"x":0.010,"y":1.29},
      {"p":"f","id":"fD4","s":"dashed","o":2,"x":0.020,"y":3.05},
      {"p":"f","id":"fD4","s":"dashed","o":3,"x":0.025,"y":4.23},
      {"p":"f","id":"fD5","s":"dashed","o":1,"x":0.010,"y":1.16},
      {"p":"f","id":"fD5","s":"dashed","o":2,"x":0.020,"y":2.67},
      {"p":"f","id":"fD5","s":"dashed","o":3,"x":0.025,"y":3.69},
      {"p":"f","id":"fD6","s":"dashed","o":1,"x":0.010,"y":1.03},
      {"p":"f","id":"fD6","s":"dashed","o":2,"x":0.020,"y":2.30},
      {"p":"f","id":"fD6","s":"dashed","o":3,"x":0.025,"y":3.14},
      {"p":"f","id":"fD7","s":"dashed","o":1,"x":0.010,"y":0.9},
      {"p":"f","id":"fD7","s":"dashed","o":2,"x":0.020,"y":1.92},
      {"p":"f","id":"fD7","s":"dashed","o":3,"x":0.025,"y":2.6},
      {"p":"f","id":"fB0","s":"solid","o":1,"x":0.010,"y":0.85},
      {"p":"f","id":"fB0","s":"solid","o":2,"x":0.020,"y":1.78},
      {"p":"f","id":"fB0","s":"solid","o":3,"x":0.025,"y":2.4},
      {"p":"f","id":"fB1","s":"solid","o":1,"x":0.010,"y":0.74},
      {"p":"f","id":"fB1","s":"solid","o":2,"x":0.020,"y":1.47},
      {"p":"f","id":"fB1","s":"solid","o":3,"x":0.025,"y":1.95},
      {"p":"f","id":"fB2","s":"solid","o":1,"x":0.010,"y":0.63},
      {"p":"f","id":"fB2","s":"solid","o":2,"x":0.020,"y":1.15},
      {"p":"f","id":"fB2","s":"solid","o":3,"x":0.025,"y":1.5},
      {"p":"f","id":"fB3","s":"solid","o":1,"x":0.010,"y":0.51},
      {"p":"f","id":"fB3","s":"solid","o":2,"x":0.020,"y":0.83},
      {"p":"f","id":"fB3","s":"solid","o":3,"x":0.025,"y":1.05},
      {"p":"f","id":"fB4","s":"solid","o":1,"x":0.010,"y":0.4},
      {"p":"f","id":"fB4","s":"solid","o":2,"x":0.020,"y":0.52},
      {"p":"f","id":"fB4","s":"solid","o":3,"x":0.025,"y":0.6}
    ],
    "labels": [
      {"p":"a","t":".05","x":0.0108,"y":58,"r":270},
      {"p":"a","t":".15","x":0.01338,"y":57.6,"r":270},
      {"p":"a","t":".15","x":0.01321,"y":18.8,"r":280},
      {"p":"a","t":".25","x":0.01659,"y":70,"r":270},
      {"p":"a","t":".25","x":0.01648,"y":31,"r":270},
      {"p":"a","t":".35","x":0.0207,"y":83.5,"r":270},
      {"p":"a","t":".35","x":0.02067,"y":44.6,"r":270},
      {"p":"a","t":".35","x":0.01998,"y":6.2,"r":300},
      {"p":"a","t":".25","x":0.01445,"y":1.8,"r":350},
      {"p":"b","t":"1.1","x":0.01194,"y":62,"r":90},
      {"p":"b","t":"1.1","x":0.01194,"y":23,"r":90},
      {"p":"b","t":"1.3","x":0.01617,"y":75.9,"r":90},
      {"p":"b","t":"1.3","x":0.01675,"y":37.4,"r":70},
      {"p":"b","t":"1.3","x":0.02062,"y":17.8,"r":-3},
      {"p":"b","t":"1.5","x":0.02063,"y":87.9,"r":85},
      {"p":"b","t":"1.5","x":0.02162,"y":50.2,"r":65},
      {"p":"b","t":"1.1","x":0.0157,"y":7.0,"r":-2},
      {"p":"b","t":"1.1","x":0.0207,"y":9.0,"r":-5},
      {"p":"b","t":"1.1","x":0.0221,"y":2.6,"r":-2},
      {"p":"c","t":".1","x":0.01187,"y":68.5,"r":90},
      {"p":"c","t":".1","x":0.01179,"y":32.8,"r":90},
      {"p":"c","t":".3","x":0.016,"y":88.1,"r":90},
      {"p":"c","t":".3","x":0.01603,"y":52,"r":90},
      {"p":"c","t":".3","x":0.01625,"y":15.4,"r":70},
      {"p":"c","t":".5","x":0.02011,"y":95.5,"r":90},
      {"p":"c","t":".5","x":0.02033,"y":59.4,"r":85},
      {"p":"c","t":".5","x":0.02122,"y":24.1,"r":60},
      {"p":"c","t":".7","x":0.02452,"y":87.6,"r":95},
      {"p":"c","t":".5","x":0.02272,"y":2.0,"r":0},
      {"p":"d","t":"-.4","x":0.01277,"y":31.3,"r":-8},
      {"p":"d","t":"-.6","x":0.0149,"y":17.8,"r":-8},
      {"p":"d","t":"-.8","x":0.0166,"y":12.3,"r":-6},
      {"p":"d","t":"-1","x":0.0182,"y":9.8,"r":-5},
      {"p":"d","t":"1","x":0.0227,"y":4.6,"r":-5},
      {"p":"e","t":"-.2","x":0.01803,"y":23,"r":-40},
      {"p":"e","t":"-.4","x":0.02386,"y":17.4,"r":-30},
      {"p":"e","t":".4","x":0.02203,"y":3.8,"r":-20},
      {"p":"f","t":"-.4","x":0.01277,"y":39.8,"r":-25},
      {"p":"f","t":"-.4","x":0.01699,"y":58,"r":-22},
      {"p":"f","t":"-.4","x":0.0211,"y":79,"r":-35},
      {"p":"f","t":"-.6","x":0.01522,"y":26.3,"r":-15},
      {"p":"f","t":"-.8","x":0.01693,"y":18.6,"r":-12},
      {"p":"f","t":"-1","x":0.0187,"y":15.4,"r":-10},
      {"p":"f","t":"-1.2","x":0.0205,"y":14.2,"r":-10},
      {"p":"f","t":"1.2","x":0.02295,"y":8.4,"r":-5}
    ]
  },
  "columns": 2,
  "spacing": {"row": 173, "column": 108},
  "bounds": "flush",
  "concat": [
    {
      "width": 743, "height": 637,
      "title": {"text": "(a)"},
      "layer": [
        {"data": {"name": "lines"}, "transform": [{"filter": "datum.p === 'a'"}],
         "mark": {"type": "line", "color": "black", "strokeWidth": 2.6, "interpolate": "catmull-rom"},
         "encoding": {
           "x": {"field": "x", "type": "quantitative", "scale": {"domain": [0.01, 0.025], "nice": false, "zero": false},
                 "axis": {"orient": "bottom", "title": null, "values": [0.010,0.011,0.012,0.013,0.014,0.015,0.016,0.017,0.018,0.019,0.020,0.021,0.022,0.023,0.024,0.025], "labelExpr": "round(datum.value*1000) % 5 === 0 ? format(datum.value, '.3f') : ''", "tickSize": {"condition": {"test": "round(datum.value*1000) % 5 === 0", "value": 15}, "value": 9}, "tickWidth": {"condition": {"test": "round(datum.value*1000) % 5 === 0", "value": 4}, "value": 3}}},
           "y": {"field": "y", "type": "quantitative", "scale": {"domain": [0, 100], "nice": false},
                 "axis": {"orient": "left", "title": "Ri", "titleFontSize": 48, "titlePadding": 8, "values": [0,5,10,15,20,25,30,35,40,45,50,55,60,65,70,75,80,85,90,95,100], "labelExpr": "datum.value % 20 === 0 ? datum.label : ''", "tickSize": {"condition": {"test": "datum.value % 20 === 0", "value": 15}, "value": 9}, "tickWidth": {"condition": {"test": "datum.value % 20 === 0", "value": 4}, "value": 3}}},
           "detail": {"field": "id", "type": "nominal"},
           "order": {"field": "o", "type": "quantitative"},
           "strokeDash": {"field": "s", "type": "nominal", "scale": {"domain": ["solid", "dashed"], "range": [[1, 0], [20, 10]]}, "legend": null}
         }},
        {"data": {"name": "labels"}, "transform": [{"filter": "datum.p === 'a'"}],
         "mark": {"type": "point", "shape": "M-1,-0.5L1,-0.5L1,0.5L-1,0.5Z", "filled": true, "color": "white", "opacity": 1, "size": 2304, "strokeWidth": 0},
         "encoding": {
           "x": {"field": "x", "type": "quantitative", "scale": {"domain": [0.01, 0.025], "nice": false, "zero": false}, "axis": null},
           "y": {"field": "y", "type": "quantitative", "scale": {"domain": [0, 100], "nice": false}, "axis": null},
           "angle": {"field": "r", "type": "quantitative", "scale": null}
         }},
        {"data": {"name": "labels"}, "transform": [{"filter": "datum.p === 'a'"}],
         "mark": {"type": "text", "font": "Liberation Serif", "fontWeight": "bold", "fontSize": 34, "color": "black"},
         "encoding": {
           "x": {"field": "x", "type": "quantitative", "scale": {"domain": [0.01, 0.025], "nice": false, "zero": false},
                 "axis": {"orient": "top", "title": null, "labels": false, "values": [0.010,0.011,0.012,0.013,0.014,0.015,0.016,0.017,0.018,0.019,0.020,0.021,0.022,0.023,0.024,0.025], "tickSize": {"condition": {"test": "round(datum.value*1000) % 5 === 0", "value": 15}, "value": 9}, "tickWidth": {"condition": {"test": "round(datum.value*1000) % 5 === 0", "value": 4}, "value": 3}}},
           "y": {"field": "y", "type": "quantitative", "scale": {"domain": [0, 100], "nice": false},
                 "axis": {"orient": "right", "title": null, "labels": false, "values": [0,5,10,15,20,25,30,35,40,45,50,55,60,65,70,75,80,85,90,95,100], "tickSize": {"condition": {"test": "datum.value % 20 === 0", "value": 15}, "value": 9}, "tickWidth": {"condition": {"test": "datum.value % 20 === 0", "value": 4}, "value": 3}}},
           "text": {"field": "t", "type": "nominal"},
           "angle": {"field": "r", "type": "quantitative", "scale": null}
         }},
        {"data": {"values": [{}]},
         "mark": {"type": "rect", "fill": "white", "stroke": "black", "strokeWidth": 2},
         "encoding": {
           "x": {"datum": 0.01801, "type": "quantitative", "scale": {"domain": [0.01, 0.025], "nice": false, "zero": false}, "axis": null},
           "x2": {"datum": 0.025},
           "y": {"datum": -9.7, "type": "quantitative", "scale": {"domain": [0, 100], "nice": false}, "axis": null},
           "y2": {"datum": -13.3}
         }},
        {"data": {"values": [{}]},
         "mark": {"type": "text", "text": "CONTOUR FROM .05 TO .45 BY .05", "font": "Liberation Sans", "fontWeight": "bold", "fontSize": 19, "color": "black"},
         "encoding": {
           "x": {"datum": 0.021505, "type": "quantitative", "scale": {"domain": [0.01, 0.025], "nice": false, "zero": false}, "axis": null},
           "y": {"datum": -11.5, "type": "quantitative", "scale": {"domain": [0, 100], "nice": false}, "axis": null}
         }}
      ],
      "resolve": {"axis": {"x": "independent", "y": "independent"}}
    },
    {
      "width": 743, "height": 637,
      "title": {"text": "(d)"},
      "layer": [
        {"data": {"name": "lines"}, "transform": [{"filter": "datum.p === 'd'"}],
         "mark": {"type": "line", "color": "black", "strokeWidth": 2.6, "interpolate": "catmull-rom"},
         "encoding": {
           "x": {"field": "x", "type": "quantitative", "scale": {"domain": [0.01, 0.025], "nice": false, "zero": false},
                 "axis": {"orient": "bottom", "title": null, "values": [0.010,0.011,0.012,0.013,0.014,0.015,0.016,0.017,0.018,0.019,0.020,0.021,0.022,0.023,0.024,0.025], "labelExpr": "round(datum.value*1000) % 5 === 0 ? format(datum.value, '.3f') : ''", "tickSize": {"condition": {"test": "round(datum.value*1000) % 5 === 0", "value": 15}, "value": 9}, "tickWidth": {"condition": {"test": "round(datum.value*1000) % 5 === 0", "value": 4}, "value": 3}}},
           "y": {"field": "y", "type": "quantitative", "scale": {"domain": [0, 100], "nice": false},
                 "axis": {"orient": "left", "title": null, "values": [0,5,10,15,20,25,30,35,40,45,50,55,60,65,70,75,80,85,90,95,100], "labelExpr": "datum.value % 20 === 0 ? datum.label : ''", "tickSize": {"condition": {"test": "datum.value % 20 === 0", "value": 15}, "value": 9}, "tickWidth": {"condition": {"test": "datum.value % 20 === 0", "value": 4}, "value": 3}}},
           "detail": {"field": "id", "type": "nominal"},
           "order": {"field": "o", "type": "quantitative"},
           "strokeDash": {"field": "s", "type": "nominal", "scale": {"domain": ["solid", "dashed"], "range": [[1, 0], [20, 10]]}, "legend": null}
         }},
        {"data": {"name": "labels"}, "transform": [{"filter": "datum.p === 'd'"}],
         "mark": {"type": "point", "shape": "M-1,-0.5L1,-0.5L1,0.5L-1,0.5Z", "filled": true, "color": "white", "opacity": 1, "size": 2304, "strokeWidth": 0},
         "encoding": {
           "x": {"field": "x", "type": "quantitative", "scale": {"domain": [0.01, 0.025], "nice": false, "zero": false}, "axis": null},
           "y": {"field": "y", "type": "quantitative", "scale": {"domain": [0, 100], "nice": false}, "axis": null},
           "angle": {"field": "r", "type": "quantitative", "scale": null}
         }},
        {"data": {"name": "labels"}, "transform": [{"filter": "datum.p === 'd'"}],
         "mark": {"type": "text", "font": "Liberation Serif", "fontWeight": "bold", "fontSize": 34, "color": "black"},
         "encoding": {
           "x": {"field": "x", "type": "quantitative", "scale": {"domain": [0.01, 0.025], "nice": false, "zero": false},
                 "axis": {"orient": "top", "title": null, "labels": false, "values": [0.010,0.011,0.012,0.013,0.014,0.015,0.016,0.017,0.018,0.019,0.020,0.021,0.022,0.023,0.024,0.025], "tickSize": {"condition": {"test": "round(datum.value*1000) % 5 === 0", "value": 15}, "value": 9}, "tickWidth": {"condition": {"test": "round(datum.value*1000) % 5 === 0", "value": 4}, "value": 3}}},
           "y": {"field": "y", "type": "quantitative", "scale": {"domain": [0, 100], "nice": false},
                 "axis": {"orient": "right", "title": null, "labels": false, "values": [0,5,10,15,20,25,30,35,40,45,50,55,60,65,70,75,80,85,90,95,100], "tickSize": {"condition": {"test": "datum.value % 20 === 0", "value": 15}, "value": 9}, "tickWidth": {"condition": {"test": "datum.value % 20 === 0", "value": 4}, "value": 3}}},
           "text": {"field": "t", "type": "nominal"},
           "angle": {"field": "r", "type": "quantitative", "scale": null}
         }},
        {"data": {"values": [{}]},
         "mark": {"type": "rect", "fill": "white", "stroke": "black", "strokeWidth": 2},
         "encoding": {
           "x": {"datum": 0.01817, "type": "quantitative", "scale": {"domain": [0.01, 0.025], "nice": false, "zero": false}, "axis": null},
           "x2": {"datum": 0.025},
           "y": {"datum": -9.7, "type": "quantitative", "scale": {"domain": [0, 100], "nice": false}, "axis": null},
           "y2": {"datum": -13.3}
         }},
        {"data": {"values": [{}]},
         "mark": {"type": "text", "text": "CONTOUR FROM -1.5 TO 1.5 BY .1", "font": "Liberation Sans", "fontWeight": "bold", "fontSize": 19, "color": "black"},
         "encoding": {
           "x": {"datum": 0.021585, "type": "quantitative", "scale": {"domain": [0.01, 0.025], "nice": false, "zero": false}, "axis": null},
           "y": {"datum": -11.5, "type": "quantitative", "scale": {"domain": [0, 100], "nice": false}, "axis": null}
         }}
      ],
      "resolve": {"axis": {"x": "independent", "y": "independent"}}
    },
    {
      "width": 743, "height": 637,
      "title": {"text": "(b)"},
      "layer": [
        {"data": {"name": "lines"}, "transform": [{"filter": "datum.p === 'b'"}],
         "mark": {"type": "line", "color": "black", "strokeWidth": 2.6, "interpolate": "catmull-rom"},
         "encoding": {
           "x": {"field": "x", "type": "quantitative", "scale": {"domain": [0.01, 0.025], "nice": false, "zero": false},
                 "axis": {"orient": "bottom", "title": null, "values": [0.010,0.011,0.012,0.013,0.014,0.015,0.016,0.017,0.018,0.019,0.020,0.021,0.022,0.023,0.024,0.025], "labelExpr": "round(datum.value*1000) % 5 === 0 ? format(datum.value, '.3f') : ''", "tickSize": {"condition": {"test": "round(datum.value*1000) % 5 === 0", "value": 15}, "value": 9}, "tickWidth": {"condition": {"test": "round(datum.value*1000) % 5 === 0", "value": 4}, "value": 3}}},
           "y": {"field": "y", "type": "quantitative", "scale": {"domain": [0, 100], "nice": false},
                 "axis": {"orient": "left", "title": "Ri", "titleFontSize": 48, "titlePadding": 8, "values": [0,5,10,15,20,25,30,35,40,45,50,55,60,65,70,75,80,85,90,95,100], "labelExpr": "datum.value % 20 === 0 ? datum.label : ''", "tickSize": {"condition": {"test": "datum.value % 20 === 0", "value": 15}, "value": 9}, "tickWidth": {"condition": {"test": "datum.value % 20 === 0", "value": 4}, "value": 3}}},
           "detail": {"field": "id", "type": "nominal"},
           "order": {"field": "o", "type": "quantitative"},
           "strokeDash": {"field": "s", "type": "nominal", "scale": {"domain": ["solid", "dashed"], "range": [[1, 0], [20, 10]]}, "legend": null}
         }},
        {"data": {"name": "labels"}, "transform": [{"filter": "datum.p === 'b'"}],
         "mark": {"type": "point", "shape": "M-1,-0.5L1,-0.5L1,0.5L-1,0.5Z", "filled": true, "color": "white", "opacity": 1, "size": 2304, "strokeWidth": 0},
         "encoding": {
           "x": {"field": "x", "type": "quantitative", "scale": {"domain": [0.01, 0.025], "nice": false, "zero": false}, "axis": null},
           "y": {"field": "y", "type": "quantitative", "scale": {"domain": [0, 100], "nice": false}, "axis": null},
           "angle": {"field": "r", "type": "quantitative", "scale": null}
         }},
        {"data": {"name": "labels"}, "transform": [{"filter": "datum.p === 'b'"}],
         "mark": {"type": "text", "font": "Liberation Serif", "fontWeight": "bold", "fontSize": 34, "color": "black"},
         "encoding": {
           "x": {"field": "x", "type": "quantitative", "scale": {"domain": [0.01, 0.025], "nice": false, "zero": false},
                 "axis": {"orient": "top", "title": null, "labels": false, "values": [0.010,0.011,0.012,0.013,0.014,0.015,0.016,0.017,0.018,0.019,0.020,0.021,0.022,0.023,0.024,0.025], "tickSize": {"condition": {"test": "round(datum.value*1000) % 5 === 0", "value": 15}, "value": 9}, "tickWidth": {"condition": {"test": "round(datum.value*1000) % 5 === 0", "value": 4}, "value": 3}}},
           "y": {"field": "y", "type": "quantitative", "scale": {"domain": [0, 100], "nice": false},
                 "axis": {"orient": "right", "title": null, "labels": false, "values": [0,5,10,15,20,25,30,35,40,45,50,55,60,65,70,75,80,85,90,95,100], "tickSize": {"condition": {"test": "datum.value % 20 === 0", "value": 15}, "value": 9}, "tickWidth": {"condition": {"test": "datum.value % 20 === 0", "value": 4}, "value": 3}}},
           "text": {"field": "t", "type": "nominal"},
           "angle": {"field": "r", "type": "quantitative", "scale": null}
         }},
        {"data": {"values": [{}]},
         "mark": {"type": "rect", "fill": "white", "stroke": "black", "strokeWidth": 2},
         "encoding": {
           "x": {"datum": 0.01858, "type": "quantitative", "scale": {"domain": [0.01, 0.025], "nice": false, "zero": false}, "axis": null},
           "x2": {"datum": 0.025},
           "y": {"datum": -9.7, "type": "quantitative", "scale": {"domain": [0, 100], "nice": false}, "axis": null},
           "y2": {"datum": -13.3}
         }},
        {"data": {"values": [{}]},
         "mark": {"type": "text", "text": "CONTOUR FROM .9 TO 1.6 BY .1", "font": "Liberation Sans", "fontWeight": "bold", "fontSize": 19, "color": "black"},
         "encoding": {
           "x": {"datum": 0.02179, "type": "quantitative", "scale": {"domain": [0.01, 0.025], "nice": false, "zero": false}, "axis": null},
           "y": {"datum": -11.5, "type": "quantitative", "scale": {"domain": [0, 100], "nice": false}, "axis": null}
         }}
      ],
      "resolve": {"axis": {"x": "independent", "y": "independent"}}
    },
    {
      "width": 743, "height": 637,
      "title": {"text": "(e)"},
      "layer": [
        {"data": {"name": "lines"}, "transform": [{"filter": "datum.p === 'e'"}],
         "mark": {"type": "line", "color": "black", "strokeWidth": 2.6, "interpolate": "catmull-rom"},
         "encoding": {
           "x": {"field": "x", "type": "quantitative", "scale": {"domain": [0.01, 0.025], "nice": false, "zero": false},
                 "axis": {"orient": "bottom", "title": null, "values": [0.010,0.011,0.012,0.013,0.014,0.015,0.016,0.017,0.018,0.019,0.020,0.021,0.022,0.023,0.024,0.025], "labelExpr": "round(datum.value*1000) % 5 === 0 ? format(datum.value, '.3f') : ''", "tickSize": {"condition": {"test": "round(datum.value*1000) % 5 === 0", "value": 15}, "value": 9}, "tickWidth": {"condition": {"test": "round(datum.value*1000) % 5 === 0", "value": 4}, "value": 3}}},
           "y": {"field": "y", "type": "quantitative", "scale": {"domain": [0, 100], "nice": false},
                 "axis": {"orient": "left", "title": null, "values": [0,5,10,15,20,25,30,35,40,45,50,55,60,65,70,75,80,85,90,95,100], "labelExpr": "datum.value % 20 === 0 ? datum.label : ''", "tickSize": {"condition": {"test": "datum.value % 20 === 0", "value": 15}, "value": 9}, "tickWidth": {"condition": {"test": "datum.value % 20 === 0", "value": 4}, "value": 3}}},
           "detail": {"field": "id", "type": "nominal"},
           "order": {"field": "o", "type": "quantitative"},
           "strokeDash": {"field": "s", "type": "nominal", "scale": {"domain": ["solid", "dashed"], "range": [[1, 0], [20, 10]]}, "legend": null}
         }},
        {"data": {"name": "labels"}, "transform": [{"filter": "datum.p === 'e'"}],
         "mark": {"type": "point", "shape": "M-1,-0.5L1,-0.5L1,0.5L-1,0.5Z", "filled": true, "color": "white", "opacity": 1, "size": 2304, "strokeWidth": 0},
         "encoding": {
           "x": {"field": "x", "type": "quantitative", "scale": {"domain": [0.01, 0.025], "nice": false, "zero": false}, "axis": null},
           "y": {"field": "y", "type": "quantitative", "scale": {"domain": [0, 100], "nice": false}, "axis": null},
           "angle": {"field": "r", "type": "quantitative", "scale": null}
         }},
        {"data": {"name": "labels"}, "transform": [{"filter": "datum.p === 'e'"}],
         "mark": {"type": "text", "font": "Liberation Serif", "fontWeight": "bold", "fontSize": 34, "color": "black"},
         "encoding": {
           "x": {"field": "x", "type": "quantitative", "scale": {"domain": [0.01, 0.025], "nice": false, "zero": false},
                 "axis": {"orient": "top", "title": null, "labels": false, "values": [0.010,0.011,0.012,0.013,0.014,0.015,0.016,0.017,0.018,0.019,0.020,0.021,0.022,0.023,0.024,0.025], "tickSize": {"condition": {"test": "round(datum.value*1000) % 5 === 0", "value": 15}, "value": 9}, "tickWidth": {"condition": {"test": "round(datum.value*1000) % 5 === 0", "value": 4}, "value": 3}}},
           "y": {"field": "y", "type": "quantitative", "scale": {"domain": [0, 100], "nice": false},
                 "axis": {"orient": "right", "title": null, "labels": false, "values": [0,5,10,15,20,25,30,35,40,45,50,55,60,65,70,75,80,85,90,95,100], "tickSize": {"condition": {"test": "datum.value % 20 === 0", "value": 15}, "value": 9}, "tickWidth": {"condition": {"test": "datum.value % 20 === 0", "value": 4}, "value": 3}}},
           "text": {"field": "t", "type": "nominal"},
           "angle": {"field": "r", "type": "quantitative", "scale": null}
         }},
        {"data": {"values": [{}]},
         "mark": {"type": "rect", "fill": "white", "stroke": "black", "strokeWidth": 2},
         "encoding": {
           "x": {"datum": 0.01866, "type": "quantitative", "scale": {"domain": [0.01, 0.025], "nice": false, "zero": false}, "axis": null},
           "x2": {"datum": 0.025},
           "y": {"datum": -9.7, "type": "quantitative", "scale": {"domain": [0, 100], "nice": false}, "axis": null},
           "y2": {"datum": -13.3}
         }},
        {"data": {"values": [{}]},
         "mark": {"type": "text", "text": "CONTOUR FROM -.4 TO .4 BY .1", "font": "Liberation Sans", "fontWeight": "bold", "fontSize": 19, "color": "black"},
         "encoding": {
           "x": {"datum": 0.02183, "type": "quantitative", "scale": {"domain": [0.01, 0.025], "nice": false, "zero": false}, "axis": null},
           "y": {"datum": -11.5, "type": "quantitative", "scale": {"domain": [0, 100], "nice": false}, "axis": null}
         }}
      ],
      "resolve": {"axis": {"x": "independent", "y": "independent"}}
    },
    {
      "width": 743, "height": 637,
      "title": {"text": "(c)"},
      "layer": [
        {"data": {"name": "lines"}, "transform": [{"filter": "datum.p === 'c'"}],
         "mark": {"type": "line", "color": "black", "strokeWidth": 2.6, "interpolate": "catmull-rom"},
         "encoding": {
           "x": {"field": "x", "type": "quantitative", "scale": {"domain": [0.01, 0.025], "nice": false, "zero": false},
                 "axis": {"orient": "bottom", "title": "Nₛ (s⁻¹)", "titleFontSize": 44, "titlePadding": 50, "values": [0.010,0.011,0.012,0.013,0.014,0.015,0.016,0.017,0.018,0.019,0.020,0.021,0.022,0.023,0.024,0.025], "labelExpr": "round(datum.value*1000) % 5 === 0 ? format(datum.value, '.3f') : ''", "tickSize": {"condition": {"test": "round(datum.value*1000) % 5 === 0", "value": 15}, "value": 9}, "tickWidth": {"condition": {"test": "round(datum.value*1000) % 5 === 0", "value": 4}, "value": 3}}},
           "y": {"field": "y", "type": "quantitative", "scale": {"domain": [0, 100], "nice": false},
                 "axis": {"orient": "left", "title": "Ri", "titleFontSize": 48, "titlePadding": 8, "values": [0,5,10,15,20,25,30,35,40,45,50,55,60,65,70,75,80,85,90,95,100], "labelExpr": "datum.value % 20 === 0 ? datum.label : ''", "tickSize": {"condition": {"test": "datum.value % 20 === 0", "value": 15}, "value": 9}, "tickWidth": {"condition": {"test": "datum.value % 20 === 0", "value": 4}, "value": 3}}},
           "detail": {"field": "id", "type": "nominal"},
           "order": {"field": "o", "type": "quantitative"},
           "strokeDash": {"field": "s", "type": "nominal", "scale": {"domain": ["solid", "dashed"], "range": [[1, 0], [20, 10]]}, "legend": null}
         }},
        {"data": {"name": "labels"}, "transform": [{"filter": "datum.p === 'c'"}],
         "mark": {"type": "point", "shape": "M-1,-0.5L1,-0.5L1,0.5L-1,0.5Z", "filled": true, "color": "white", "opacity": 1, "size": 2304, "strokeWidth": 0},
         "encoding": {
           "x": {"field": "x", "type": "quantitative", "scale": {"domain": [0.01, 0.025], "nice": false, "zero": false}, "axis": null},
           "y": {"field": "y", "type": "quantitative", "scale": {"domain": [0, 100], "nice": false}, "axis": null},
           "angle": {"field": "r", "type": "quantitative", "scale": null}
         }},
        {"data": {"name": "labels"}, "transform": [{"filter": "datum.p === 'c'"}],
         "mark": {"type": "text", "font": "Liberation Serif", "fontWeight": "bold", "fontSize": 34, "color": "black"},
         "encoding": {
           "x": {"field": "x", "type": "quantitative", "scale": {"domain": [0.01, 0.025], "nice": false, "zero": false},
                 "axis": {"orient": "top", "title": null, "labels": false, "values": [0.010,0.011,0.012,0.013,0.014,0.015,0.016,0.017,0.018,0.019,0.020,0.021,0.022,0.023,0.024,0.025], "tickSize": {"condition": {"test": "round(datum.value*1000) % 5 === 0", "value": 15}, "value": 9}, "tickWidth": {"condition": {"test": "round(datum.value*1000) % 5 === 0", "value": 4}, "value": 3}}},
           "y": {"field": "y", "type": "quantitative", "scale": {"domain": [0, 100], "nice": false},
                 "axis": {"orient": "right", "title": null, "labels": false, "values": [0,5,10,15,20,25,30,35,40,45,50,55,60,65,70,75,80,85,90,95,100], "tickSize": {"condition": {"test": "datum.value % 20 === 0", "value": 15}, "value": 9}, "tickWidth": {"condition": {"test": "datum.value % 20 === 0", "value": 4}, "value": 3}}},
           "text": {"field": "t", "type": "nominal"},
           "angle": {"field": "r", "type": "quantitative", "scale": null}
         }},
        {"data": {"values": [{}]},
         "mark": {"type": "rect", "fill": "white", "stroke": "black", "strokeWidth": 2},
         "encoding": {
           "x": {"datum": 0.01878, "type": "quantitative", "scale": {"domain": [0.01, 0.025], "nice": false, "zero": false}, "axis": null},
           "x2": {"datum": 0.025},
           "y": {"datum": -9.7, "type": "quantitative", "scale": {"domain": [0, 100], "nice": false}, "axis": null},
           "y2": {"datum": -13.3}
         }},
        {"data": {"values": [{}]},
         "mark": {"type": "text", "text": "CONTOUR FROM .1 TO .7 BY .1", "font": "Liberation Sans", "fontWeight": "bold", "fontSize": 19, "color": "black"},
         "encoding": {
           "x": {"datum": 0.02189, "type": "quantitative", "scale": {"domain": [0.01, 0.025], "nice": false, "zero": false}, "axis": null},
           "y": {"datum": -11.5, "type": "quantitative", "scale": {"domain": [0, 100], "nice": false}, "axis": null}
         }}
      ],
      "resolve": {"axis": {"x": "independent", "y": "independent"}}
    },
    {
      "width": 743, "height": 637,
      "title": {"text": "(f)"},
      "layer": [
        {"data": {"name": "lines"}, "transform": [{"filter": "datum.p === 'f'"}],
         "mark": {"type": "line", "color": "black", "strokeWidth": 2.6, "interpolate": "catmull-rom"},
         "encoding": {
           "x": {"field": "x", "type": "quantitative", "scale": {"domain": [0.01, 0.025], "nice": false, "zero": false},
                 "axis": {"orient": "bottom", "title": "Nₛ (s⁻¹)", "titleFontSize": 44, "titlePadding": 50, "values": [0.010,0.011,0.012,0.013,0.014,0.015,0.016,0.017,0.018,0.019,0.020,0.021,0.022,0.023,0.024,0.025], "labelExpr": "round(datum.value*1000) % 5 === 0 ? format(datum.value, '.3f') : ''", "tickSize": {"condition": {"test": "round(datum.value*1000) % 5 === 0", "value": 15}, "value": 9}, "tickWidth": {"condition": {"test": "round(datum.value*1000) % 5 === 0", "value": 4}, "value": 3}}},
           "y": {"field": "y", "type": "quantitative", "scale": {"domain": [0, 100], "nice": false},
                 "axis": {"orient": "left", "title": null, "values": [0,5,10,15,20,25,30,35,40,45,50,55,60,65,70,75,80,85,90,95,100], "labelExpr": "datum.value % 20 === 0 ? datum.label : ''", "tickSize": {"condition": {"test": "datum.value % 20 === 0", "value": 15}, "value": 9}, "tickWidth": {"condition": {"test": "datum.value % 20 === 0", "value": 4}, "value": 3}}},
           "detail": {"field": "id", "type": "nominal"},
           "order": {"field": "o", "type": "quantitative"},
           "strokeDash": {"field": "s", "type": "nominal", "scale": {"domain": ["solid", "dashed"], "range": [[1, 0], [20, 10]]}, "legend": null}
         }},
        {"data": {"name": "labels"}, "transform": [{"filter": "datum.p === 'f'"}],
         "mark": {"type": "point", "shape": "M-1,-0.5L1,-0.5L1,0.5L-1,0.5Z", "filled": true, "color": "white", "opacity": 1, "size": 2304, "strokeWidth": 0},
         "encoding": {
           "x": {"field": "x", "type": "quantitative", "scale": {"domain": [0.01, 0.025], "nice": false, "zero": false}, "axis": null},
           "y": {"field": "y", "type": "quantitative", "scale": {"domain": [0, 100], "nice": false}, "axis": null},
           "angle": {"field": "r", "type": "quantitative", "scale": null}
         }},
        {"data": {"name": "labels"}, "transform": [{"filter": "datum.p === 'f'"}],
         "mark": {"type": "text", "font": "Liberation Serif", "fontWeight": "bold", "fontSize": 34, "color": "black"},
         "encoding": {
           "x": {"field": "x", "type": "quantitative", "scale": {"domain": [0.01, 0.025], "nice": false, "zero": false},
                 "axis": {"orient": "top", "title": null, "labels": false, "values": [0.010,0.011,0.012,0.013,0.014,0.015,0.016,0.017,0.018,0.019,0.020,0.021,0.022,0.023,0.024,0.025], "tickSize": {"condition": {"test": "round(datum.value*1000) % 5 === 0", "value": 15}, "value": 9}, "tickWidth": {"condition": {"test": "round(datum.value*1000) % 5 === 0", "value": 4}, "value": 3}}},
           "y": {"field": "y", "type": "quantitative", "scale": {"domain": [0, 100], "nice": false},
                 "axis": {"orient": "right", "title": null, "labels": false, "values": [0,5,10,15,20,25,30,35,40,45,50,55,60,65,70,75,80,85,90,95,100], "tickSize": {"condition": {"test": "datum.value % 20 === 0", "value": 15}, "value": 9}, "tickWidth": {"condition": {"test": "datum.value % 20 === 0", "value": 4}, "value": 3}}},
           "text": {"field": "t", "type": "nominal"},
           "angle": {"field": "r", "type": "quantitative", "scale": null}
         }},
        {"data": {"values": [{}]},
         "mark": {"type": "rect", "fill": "white", "stroke": "black", "strokeWidth": 2},
         "encoding": {
           "x": {"datum": 0.0182, "type": "quantitative", "scale": {"domain": [0.01, 0.025], "nice": false, "zero": false}, "axis": null},
           "x2": {"datum": 0.025},
           "y": {"datum": -9.7, "type": "quantitative", "scale": {"domain": [0, 100], "nice": false}, "axis": null},
           "y2": {"datum": -13.3}
         }},
        {"data": {"values": [{}]},
         "mark": {"type": "text", "text": "CONTOUR FROM -1.5 TO 1.5 BY .1", "font": "Liberation Sans", "fontWeight": "bold", "fontSize": 19, "color": "black"},
         "encoding": {
           "x": {"datum": 0.0216, "type": "quantitative", "scale": {"domain": [0.01, 0.025], "nice": false, "zero": false}, "axis": null},
           "y": {"datum": -11.5, "type": "quantitative", "scale": {"domain": [0, 100], "nice": false}, "axis": null}
         }}
      ],
      "resolve": {"axis": {"x": "independent", "y": "independent"}}
    }
  ]
}
